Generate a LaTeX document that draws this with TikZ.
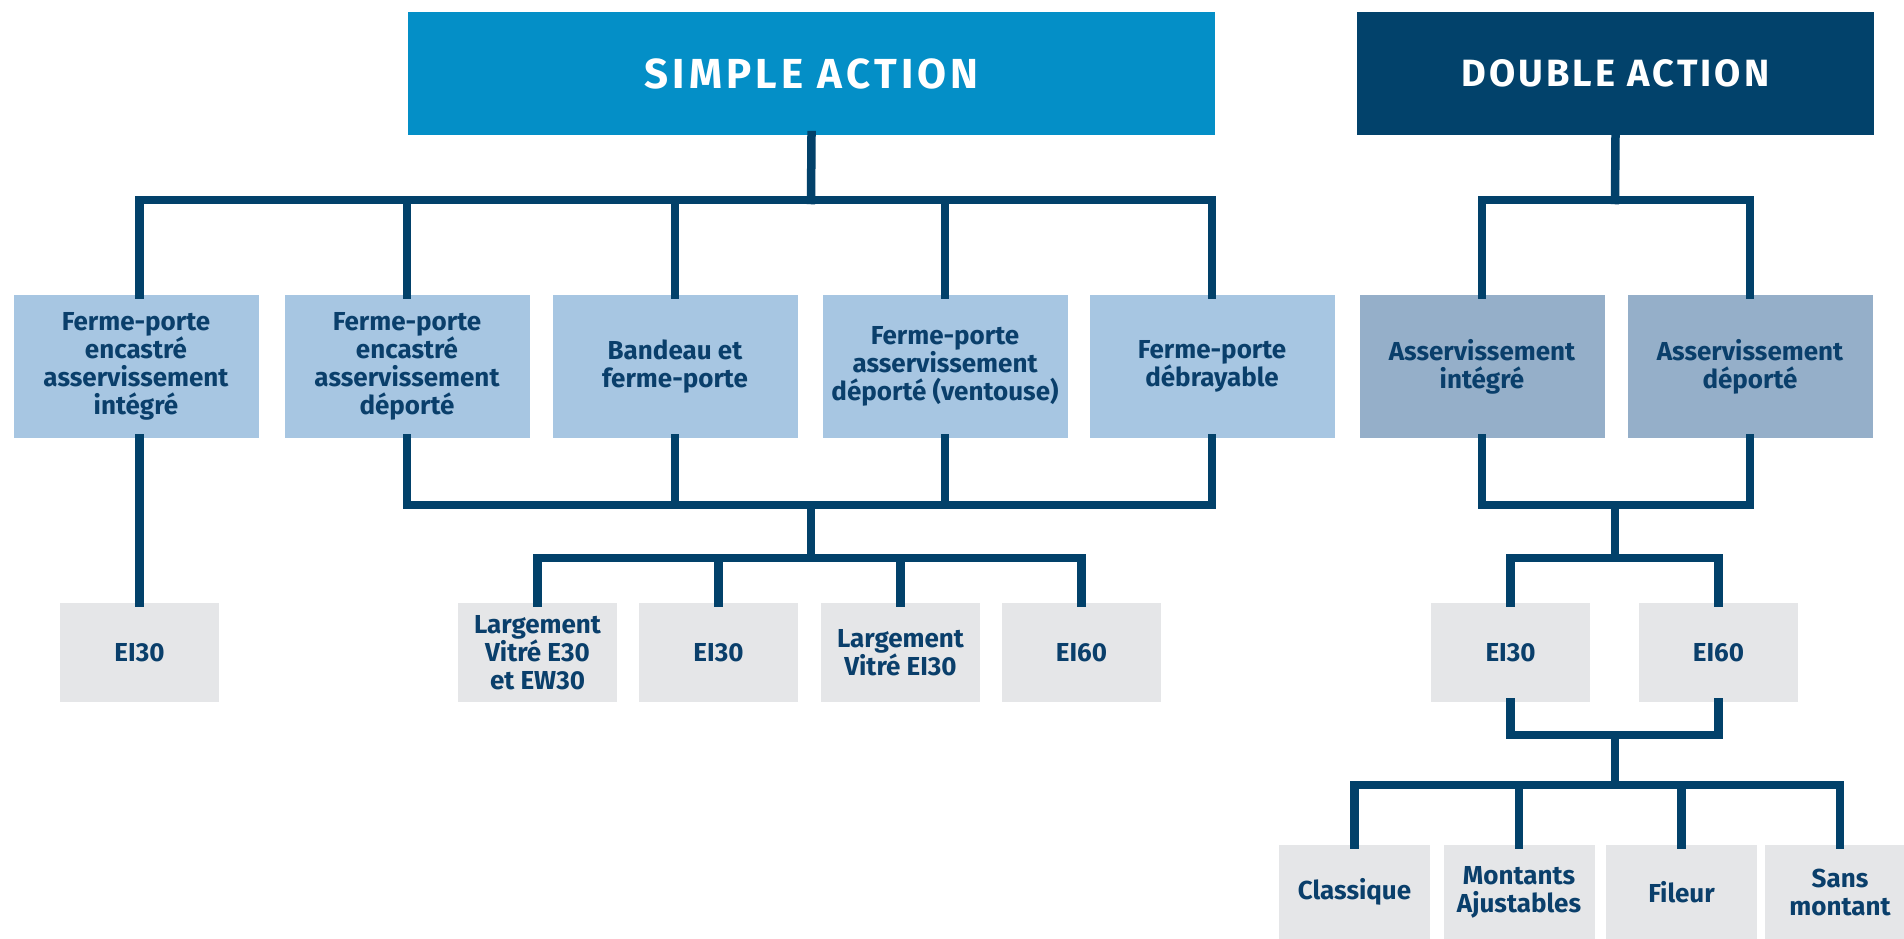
\documentclass[tikz,border=0pt]{standalone}
\usepackage{fontspec}
\setmainfont{Fira Sans}
\newfontfamily\titlefontA[LetterSpace=10]{Fira Sans}
\newfontfamily\titlefontB[LetterSpace=8]{Fira Sans}
\usetikzlibrary{calc}
\definecolor{saBlue}{HTML}{048FC7}
\definecolor{daNavy}{HTML}{02426B}
\definecolor{lineNavy}{HTML}{02416A}
\definecolor{txtNavy}{HTML}{0A3F6B}
\definecolor{lightBlue}{HTML}{A7C6E2}
\definecolor{greyBlue}{HTML}{95AFC9}
\definecolor{lightGrey}{HTML}{E5E6E8}
\tikzset{
  x=1pt, y=-1pt,
  head/.style={rectangle, inner sep=0pt, text=white, minimum height=123pt},
  lvltwo/.style={rectangle, inner sep=0pt, fill=lightBlue, text=txtNavy, align=center,
     minimum width=245pt, minimum height=143pt, font=\bfseries\fontsize{26}{28}\selectfont},
  lvltwoda/.style={lvltwo, fill=greyBlue},
  leaf/.style={rectangle, inner sep=0pt, fill=lightGrey, text=txtNavy, align=center,
     minimum width=159pt, minimum height=99pt, font=\bfseries\fontsize{26}{28}\selectfont},
  bottomleaf/.style={leaf, minimum width=151pt, minimum height=94pt},
  conn/.style={draw=lineNavy, line width=8.5pt, line join=miter, line cap=rect}
}
\begin{document}
\begin{tikzpicture}
\useasboundingbox (0,0) rectangle (1904,939);
\fill[white] (0,0) rectangle (1904,939);
% headers
\node[head, fill=saBlue, minimum width=807pt, font=\titlefontA\bfseries\fontsize{42}{46}\selectfont] (sa) at (811.5,73.5) {SIMPLE ACTION};
\node[head, fill=daNavy, minimum width=517pt, font=\titlefontB\bfseries\fontsize{38}{42}\selectfont] (da) at (1615.5,73.5) {DOUBLE ACTION};
% level 2
\node[lvltwo] (b1) at (136,366.5) {Ferme-porte\\encastré\\asservissement\\intégré};
\node[lvltwo] (b2) at (407,366.5) {Ferme-porte\\encastré\\asservissement\\déporté};
\node[lvltwo] (b3) at (675,366.5) {Bandeau et\\ferme-porte};
\node[lvltwo] (b4) at (945,366.5) {Ferme-porte\\asservissement\\déporté (ventouse)};
\node[lvltwo] (b5) at (1212,366.5) {Ferme-porte\\débrayable};
\node[lvltwoda] (d1) at (1482,366.5) {Asservissement\\intégré};
\node[lvltwoda] (d2) at (1750,366.5) {Asservissement\\déporté};
% level 3
\node[leaf] (c1) at (139.5,652.5) {EI30};
\node[leaf] (c2) at (537.5,652.5) {Largement\\Vitré E30\\et EW30};
\node[leaf] (c3) at (718.5,652.5) {EI30};
\node[leaf] (c4) at (900.5,652.5) {Largement\\Vitré EI30};
\node[leaf] (c5) at (1081.5,652.5) {EI60};
\node[leaf] (e1) at (1510.5,652.5) {EI30};
\node[leaf] (e2) at (1718.5,652.5) {EI60};
% bottom
\node[bottomleaf] (f1) at (1354.5,892) {Classique};
\node[bottomleaf] (f2) at (1519,892) {Montants\\Ajustables};
\node[bottomleaf] (f3) at (1681.5,892) {Fileur};
\node[bottomleaf] (f4) at (1840,892) {Sans\\montant};
% junctions
\coordinate (j1) at (811,200);
\coordinate (j2) at (811,505);
\coordinate (j3) at (811,558);
\coordinate (k1) at (1615,200);
\coordinate (k2) at (1615,505);
\coordinate (k3) at (1615,558);
\coordinate (k4) at (1615,735);
\coordinate (k5) at (1615,785);
% simple action connectors
\draw[conn] (sa.south) -- (j1);
\draw[conn] (j1) -| (c1.north |- b1.north);
\foreach \n in {b2,b3,b4,b5} \draw[conn] (j1) -| (\n.north);
\draw[conn] (c1.north |- b1.south) -- (c1.north);
\foreach \n in {b2,b3,b4,b5} \draw[conn] (\n.south) |- (j2);
\draw[conn] (j2) -- (j3);
\foreach \n in {c2,c3,c4,c5} \draw[conn] (j3) -| (\n.north);
% double action connectors
\draw[conn] (da.south) -- (k1);
\foreach \n in {d1,d2} \draw[conn] (k1) -| (\n.north);
\foreach \n in {d1,d2} \draw[conn] (\n.south) |- (k2);
\draw[conn] (k2) -- (k3);
\foreach \n in {e1,e2} \draw[conn] (k3) -| (\n.north);
\foreach \n in {e1,e2} \draw[conn] (\n.south) |- (k4);
\draw[conn] (k4) -- (k5);
\foreach \n in {f1,f2,f3,f4} \draw[conn] (k5) -| (\n.north);
\end{tikzpicture}
\end{document}
